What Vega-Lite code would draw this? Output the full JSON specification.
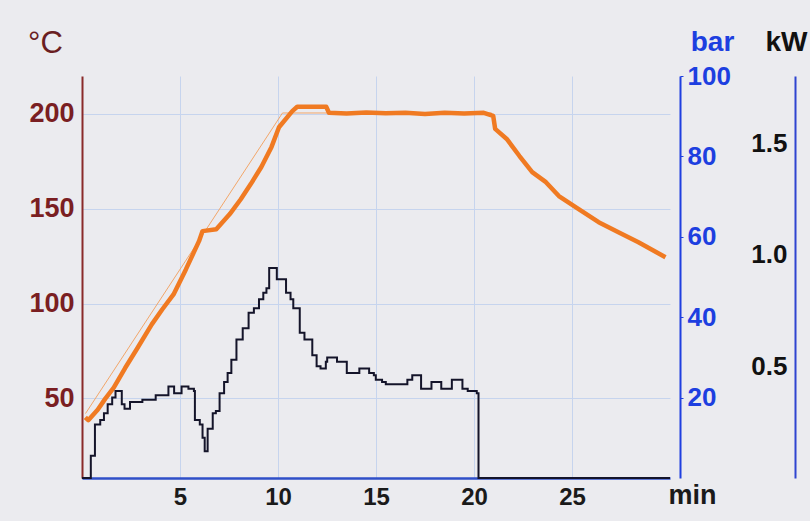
{
  "$schema": "https://vega.github.io/schema/vega-lite/v6.json",
  "width": 588,
  "height": 402,
  "autosize": "none",
  "padding": {"left": 82, "top": 76, "right": 140, "bottom": 43},
  "background": "#ebebef",
  "config": {"view": {"stroke": null}, "font": "Liberation Sans"},
  "datasets": {
    "temp": [
      {"t": 0.17, "T": 40}, {"t": 0.32, "T": 38.5}, {"t": 0.8, "T": 44}, {"t": 1.2, "T": 50},
      {"t": 1.62, "T": 55.6}, {"t": 2.2, "T": 66}, {"t": 2.8, "T": 76}, {"t": 3.56, "T": 89},
      {"t": 4.1, "T": 97}, {"t": 4.67, "T": 104.8}, {"t": 5.3, "T": 118}, {"t": 5.97, "T": 132.9},
      {"t": 6.15, "T": 138.2}, {"t": 6.85, "T": 139.2}, {"t": 7.54, "T": 147.2}, {"t": 8.1, "T": 155},
      {"t": 8.61, "T": 163}, {"t": 9.15, "T": 172}, {"t": 9.67, "T": 182.6}, {"t": 10.05, "T": 193},
      {"t": 10.73, "T": 201.5}, {"t": 10.98, "T": 203.8}, {"t": 12.46, "T": 203.8}, {"t": 12.6, "T": 200.6},
      {"t": 13.5, "T": 200.2}, {"t": 14.5, "T": 200.8}, {"t": 15.5, "T": 200.3}, {"t": 16.5, "T": 200.6},
      {"t": 17.5, "T": 200.0}, {"t": 18.5, "T": 200.6}, {"t": 19.5, "T": 200.2}, {"t": 20.5, "T": 200.6},
      {"t": 20.98, "T": 199}, {"t": 21.08, "T": 192.1}, {"t": 21.67, "T": 186.8}, {"t": 22.32, "T": 177.8},
      {"t": 22.97, "T": 169.3}, {"t": 23.67, "T": 164}, {"t": 24.33, "T": 156.7}, {"t": 25.34, "T": 149.8},
      {"t": 26.36, "T": 142.9}, {"t": 27.37, "T": 137.6}, {"t": 28.39, "T": 132.3}, {"t": 29.77, "T": 124.4}
    ],
    "setpoint": [
      {"t": 0.18, "T": 42}, {"t": 10.23, "T": 200.5}, {"t": 20.9, "T": 200.5}
    ],
    "power": [
      {"t": 0, "kw": 0}, {"t": 0.45, "kw": 0.1}, {"t": 0.66, "kw": 0.24}, {"t": 0.93, "kw": 0.26},
      {"t": 1.12, "kw": 0.29}, {"t": 1.31, "kw": 0.33}, {"t": 1.54, "kw": 0.36}, {"t": 1.71, "kw": 0.39},
      {"t": 2.03, "kw": 0.33}, {"t": 2.17, "kw": 0.31}, {"t": 2.45, "kw": 0.34}, {"t": 3.08, "kw": 0.35},
      {"t": 3.76, "kw": 0.37}, {"t": 4.41, "kw": 0.41}, {"t": 4.7, "kw": 0.38}, {"t": 5.08, "kw": 0.41},
      {"t": 5.43, "kw": 0.4}, {"t": 5.71, "kw": 0.39}, {"t": 5.76, "kw": 0.26}, {"t": 6.01, "kw": 0.24},
      {"t": 6.15, "kw": 0.18}, {"t": 6.26, "kw": 0.12}, {"t": 6.41, "kw": 0.22}, {"t": 6.67, "kw": 0.29},
      {"t": 6.83, "kw": 0.3}, {"t": 7.02, "kw": 0.38}, {"t": 7.25, "kw": 0.43}, {"t": 7.43, "kw": 0.47},
      {"t": 7.62, "kw": 0.53}, {"t": 7.88, "kw": 0.62}, {"t": 8.2, "kw": 0.67}, {"t": 8.5, "kw": 0.74},
      {"t": 8.77, "kw": 0.76}, {"t": 9.03, "kw": 0.8}, {"t": 9.25, "kw": 0.83}, {"t": 9.41, "kw": 0.85},
      {"t": 9.55, "kw": 0.94}, {"t": 9.94, "kw": 0.89}, {"t": 10.41, "kw": 0.83}, {"t": 10.64, "kw": 0.8},
      {"t": 10.78, "kw": 0.76}, {"t": 11.11, "kw": 0.65}, {"t": 11.35, "kw": 0.62}, {"t": 11.75, "kw": 0.55},
      {"t": 11.97, "kw": 0.5}, {"t": 12.17, "kw": 0.49}, {"t": 12.44, "kw": 0.52}, {"t": 12.51, "kw": 0.54},
      {"t": 13.01, "kw": 0.52}, {"t": 13.51, "kw": 0.47}, {"t": 14.15, "kw": 0.49}, {"t": 14.65, "kw": 0.47},
      {"t": 14.89, "kw": 0.46}, {"t": 14.99, "kw": 0.44}, {"t": 15.31, "kw": 0.43}, {"t": 15.5, "kw": 0.42},
      {"t": 16.6, "kw": 0.44}, {"t": 16.85, "kw": 0.46}, {"t": 17.3, "kw": 0.4}, {"t": 17.83, "kw": 0.43},
      {"t": 18.33, "kw": 0.4}, {"t": 18.87, "kw": 0.44}, {"t": 19.41, "kw": 0.4}, {"t": 19.68, "kw": 0.39},
      {"t": 20.14, "kw": 0.38}, {"t": 20.23, "kw": 0}, {"t": 30, "kw": 0}
    ]
  },
  "layer": [
    {
      "layer": [
        {
          "data": {"name": "setpoint"},
          "mark": {"type": "line", "color": "#f2a66a", "strokeWidth": 1},
          "encoding": {
            "x": {
              "field": "t", "type": "quantitative",
              "scale": {"domain": [0, 30], "nice": false, "zero": false},
              "axis": {
                "orient": "bottom", "values": [5, 10, 15, 20, 25], "grid": true,
                "gridColor": "#c6d4ee", "gridWidth": 1,
                "domainColor": "#2f4fc8", "domainWidth": 2.5, "ticks": false,
                "labelFont": "Liberation Sans", "labelFontWeight": "bold", "labelFontSize": 24,
                "labelColor": "#1a1a1a", "labelPadding": 7,
                "title": "min", "titleFont": "Liberation Sans", "titleFontWeight": "bold", "titleFontSize": 27,
                "titleColor": "#1a1a1a", "titleX": 610, "titleY": 17, "titleAlign": "center", "titleBaseline": "middle"
              }
            },
            "y": {
              "field": "T", "type": "quantitative",
              "scale": {"domain": [8, 220], "nice": false, "zero": false},
              "axis": {
                "orient": "left", "values": [50, 100, 150, 200], "grid": true,
                "gridColor": "#c6d4ee", "gridWidth": 1,
                "domainColor": "#8a2a2a", "domainWidth": 2, "ticks": false,
                "labelFont": "Liberation Sans", "labelFontWeight": "bold", "labelFontSize": 27,
                "labelColor": "#7a1e22", "labelPadding": 8,
                "title": "°C", "titleFont": "Liberation Sans", "titleFontWeight": "normal", "titleFontSize": 31,
                "titleColor": "#6a1e22", "titleAngle": 0, "titleX": -37, "titleY": -33,
                "titleAlign": "center", "titleBaseline": "middle"
              }
            }
          }
        },
        {
          "data": {"name": "temp"},
          "mark": {"type": "line", "color": "#f07a22", "strokeWidth": 4.5, "strokeJoin": "round"},
          "encoding": {
            "x": {"field": "t", "type": "quantitative"},
            "y": {"field": "T", "type": "quantitative"}
          }
        },
        {
          "mark": {"type": "rule", "color": "#e8a6cc", "strokeWidth": 1.2},
          "encoding": {"x": {"datum": 30, "type": "quantitative"}}
        },
        {
          "mark": {"type": "text", "text": "T2", "font": "Liberation Serif", "fontSize": 29, "color": "#f07a30", "align": "center", "baseline": "middle"},
          "encoding": {
            "x": {"datum": 21.58, "type": "quantitative"},
            "y": {"datum": 201, "type": "quantitative"}
          }
        },
        {
          "mark": {"type": "text", "text": "0%", "font": "Liberation Sans", "fontWeight": "bold", "fontSize": 26, "color": "#a6d6ee", "align": "center", "baseline": "middle"},
          "encoding": {
            "x": {"datum": 18.88, "type": "quantitative"},
            "y": {"datum": 15.9, "type": "quantitative"}
          }
        }
      ]
    },
    {
      "data": {"name": "power"},
      "mark": {"type": "line", "color": "#14142a", "strokeWidth": 2, "interpolate": "step-after"},
      "encoding": {
        "x": {"field": "t", "type": "quantitative"},
        "y": {
          "field": "kw", "type": "quantitative",
          "scale": {"domain": [0, 1.8], "nice": false, "zero": false},
          "axis": {
            "orient": "right", "offset": 125, "values": [0.5, 1.0, 1.5], "format": ".1f", "grid": false,
            "domainColor": "#2f44d0", "domainWidth": 2, "ticks": false,
            "labelFont": "Liberation Sans", "labelFontWeight": "bold", "labelFontSize": 26,
            "labelColor": "#111111", "labelAlign": "right", "labelPadding": -8,
            "title": "kW", "titleFont": "Liberation Sans", "titleFontWeight": "bold", "titleFontSize": 28,
            "titleColor": "#111111", "titleAngle": 0, "titleX": -9, "titleY": -34,
            "titleAlign": "center", "titleBaseline": "middle"
          }
        }
      }
    },
    {
      "mark": {"type": "rule", "opacity": 0},
      "encoding": {
        "y": {
          "datum": 50, "type": "quantitative",
          "scale": {"domain": [0, 100], "nice": false, "zero": false},
          "axis": {
            "orient": "right", "offset": 10, "values": [20, 40, 60, 80, 100], "grid": false,
            "domainColor": "#1f3fe0", "domainWidth": 2, "ticks": true, "tickSize": 3, "tickColor": "#1f3fe0",
            "labelFont": "Liberation Sans", "labelFontWeight": "bold", "labelFontSize": 26,
            "labelColor": "#1d3fe0", "labelPadding": 4,
            "title": "bar", "titleFont": "Liberation Sans", "titleFontWeight": "bold", "titleFontSize": 28,
            "titleColor": "#1d3fe0", "titleAngle": 0, "titleX": 32, "titleY": -34,
            "titleAlign": "center", "titleBaseline": "middle"
          }
        }
      }
    }
  ],
  "resolve": {"scale": {"y": "independent"}}
}
